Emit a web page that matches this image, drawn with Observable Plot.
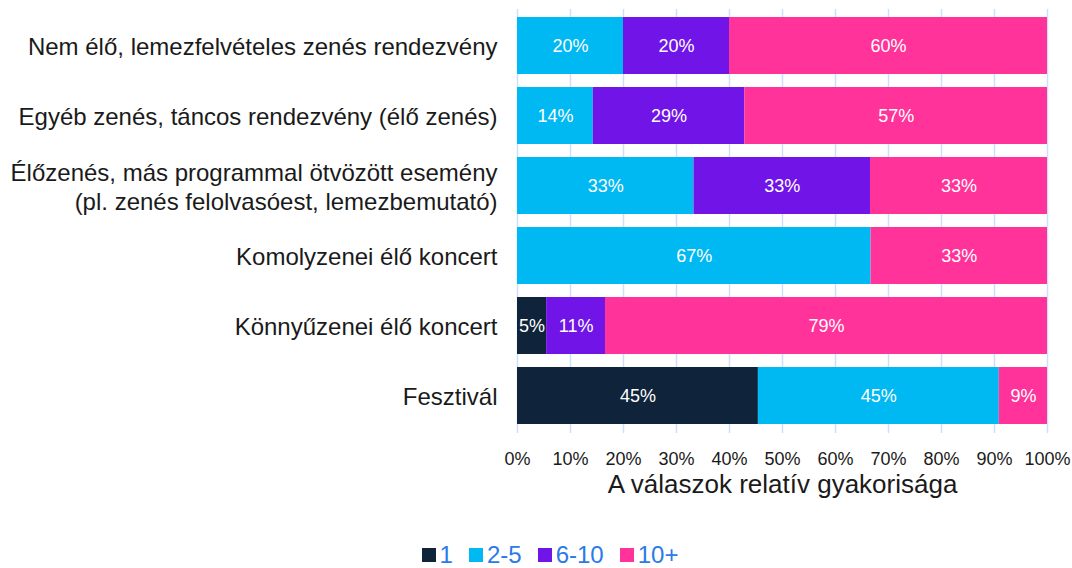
<!DOCTYPE html>
<html>
<head>
<meta charset="utf-8">
<script src="https://cdn.jsdelivr.net/npm/d3@7"></script>
<script src="https://cdn.jsdelivr.net/npm/@observablehq/plot@0.6"></script>
<style>
  html, body { margin: 0; padding: 0; background: #fff; }
  body { width: 1072px; height: 568px; position: relative; font-family: "Liberation Sans", Arial, sans-serif; overflow: hidden; }
  #legend { position: absolute; left: 0; top: 543px; width: 1072px; display: flex; justify-content: center; gap: 16px; padding-left: 28px; box-sizing: border-box; font-size: 24px; color: #2a7ae8; line-height: 24px; height: 24px; }
  #legend span.item { display: flex; align-items: center; }
  #legend span.sw { display: inline-block; width: 14px; height: 14px; margin-right: 4px; }
</style>
</head>
<body>
<div id="chart"></div>
<div id="legend"></div>
<script>
const categories = [
  "Nem élő, lemezfelvételes zenés rendezvény",
  "Egyéb zenés, táncos rendezvény (élő zenés)",
  "Élőzenés, más programmal ötvözött esemény\n(pl. zenés felolvasóest, lemezbemutató)",
  "Komolyzenei élő koncert",
  "Könnyűzenei élő koncert",
  "Fesztivál"
];
const series = ["1", "2-5", "6-10", "10+"];
const colors = ["#0f233b", "#00b8f2", "#7014e8", "#ff3399"];
// percentage shares per series, aligned with categories
const values1    = [0, 0, 0, 0, 5.5, 45.45];
const values2_5  = [20, 14.3, 33.3, 66.7, 0, 45.45];
const values6_10 = [20, 28.6, 33.3, 0, 11.1, 0];
const values10p  = [60, 57.1, 33.4, 33.3, 83.4, 9.1];
// data labels as printed on the chart
const labels1    = ["", "", "", "", "5%", "45%"];
const labels2_5  = ["20%", "14%", "33%", "67%", "", "45%"];
const labels6_10 = ["20%", "29%", "33%", "", "11%", ""];
const labels10p  = ["60%", "57%", "33%", "33%", "79%", "9%"];
const xTicks = [0, 10, 20, 30, 40, 50, 60, 70, 80, 90, 100];
const xLabel = "A válaszok relatív gyakorisága";

const valueSets = [values1, values2_5, values6_10, values10p];
const labelSets = [labels1, labels2_5, labels6_10, labels10p];
const data = [];
categories.forEach((c, i) => {
  series.forEach((s, j) => {
    const v = valueSets[j][i];
    if (v > 0) data.push({category: c, series: s, value: v, label: labelSets[j][i]});
  });
});

const chart = Plot.plot({
  width: 1072,
  height: 512,
  marginLeft: 517,
  marginRight: 25,
  marginTop: 9,
  marginBottom: 79,
  style: {fontFamily: "'Liberation Sans', Arial, sans-serif", color: "#1a1a1a", background: "#fff"},
  x: {domain: [0, 100]},
  y: {domain: categories, paddingInner: 0.18, paddingOuter: 0.09},
  color: {domain: series, range: colors},
  marks: [
    Plot.gridX(xTicks, {stroke: "#cddffa", strokeOpacity: 1, strokeWidth: 1.5}),
    Plot.barX(data, Plot.stackX({x: "value", y: "category", fill: "series", z: "series", order: series})),
    Plot.text(data, Plot.stackX({x: "value", y: "category", z: "series", order: series, text: "label", fill: "white", fontSize: 18})),
    Plot.axisX(xTicks, {tickSize: 0, tickPadding: 19, fontSize: 18, tickFormat: d => d + "%", label: null}),
    Plot.axisY({tickSize: 0, tickPadding: 20, fontSize: 24, lineHeight: 1.2, label: null}),
    Plot.text([xLabel], {frameAnchor: "bottom", dy: 59, fontSize: 26, fill: "#1a1a1a"})
  ]
});
document.getElementById("chart").appendChild(chart);

const legend = document.getElementById("legend");
series.forEach((s, j) => {
  const item = document.createElement("span");
  item.className = "item";
  const sw = document.createElement("span");
  sw.className = "sw";
  sw.style.background = colors[j];
  item.appendChild(sw);
  item.appendChild(document.createTextNode(s));
  legend.appendChild(item);
});
</script>
</body>
</html>
